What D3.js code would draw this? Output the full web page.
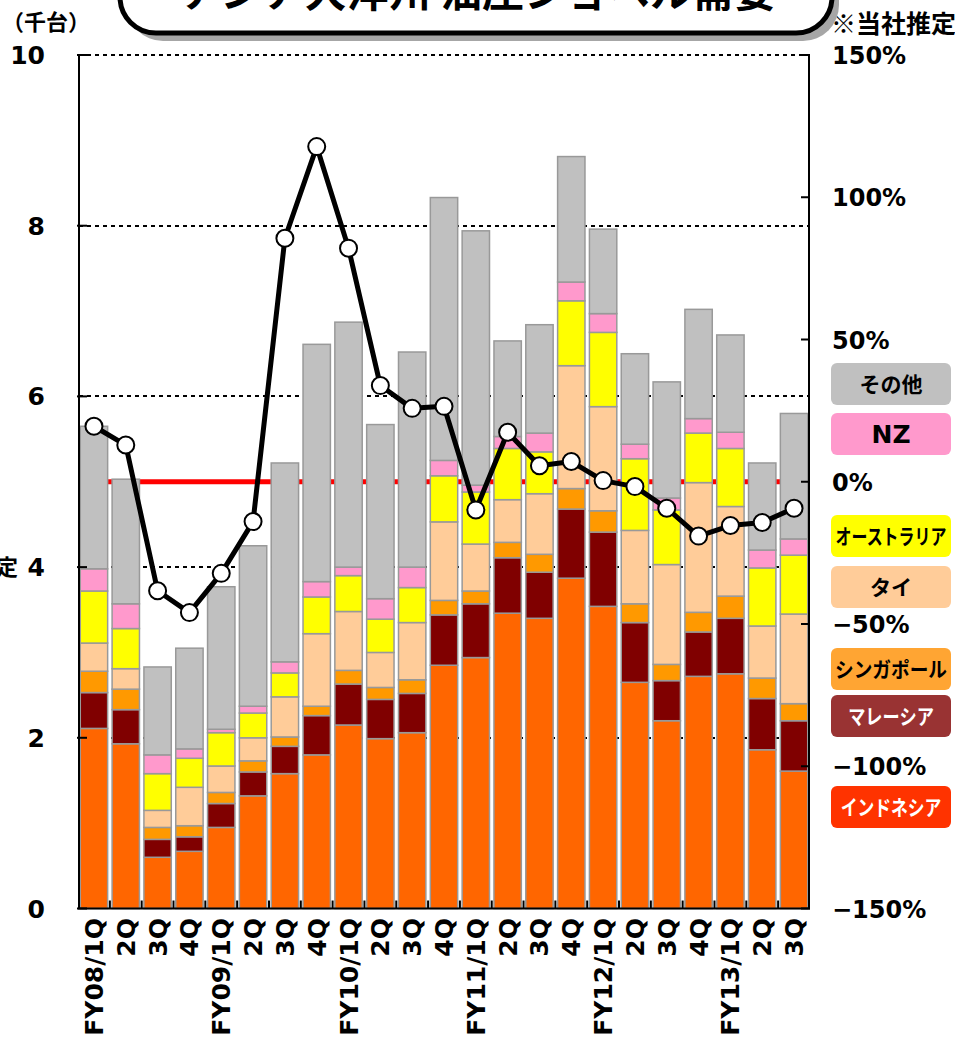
<!DOCTYPE html>
<html>
<head>
<meta charset="utf-8">
<script src="https://cdn.jsdelivr.net/npm/d3@7"></script>
<style>
  body { margin: 0; background: #fff; }
  svg { display: block; }
  .num { font-family: "DejaVu Sans", sans-serif; font-weight: bold; }
  .jp { font-family: "Noto Sans CJK JP", sans-serif; font-weight: bold; }
</style>
</head>
<body>
<svg id="chart" width="955" height="1037"></svg>
<script>
// quarters
var categories = ["FY08/1Q","2Q","3Q","4Q","FY09/1Q","2Q","3Q","4Q","FY10/1Q","2Q","3Q","4Q",
                  "FY11/1Q","2Q","3Q","4Q","FY12/1Q","2Q","3Q","4Q","FY13/1Q","2Q","3Q"];

// demand by country (thousand units)
var indonesia = [2.11,1.93,0.60,0.67,0.95,1.32,1.58,1.80,2.15,1.99,2.06,2.85,2.94,3.46,3.40,3.87,3.54,2.65,2.20,2.72,2.75,1.86,1.61];
var malaysia  = [0.42,0.40,0.21,0.17,0.28,0.28,0.32,0.46,0.48,0.46,0.46,0.59,0.63,0.65,0.54,0.81,0.87,0.70,0.47,0.52,0.65,0.60,0.59];
var singapore = [0.25,0.24,0.14,0.13,0.13,0.13,0.11,0.11,0.16,0.14,0.16,0.17,0.15,0.18,0.21,0.24,0.25,0.22,0.19,0.23,0.26,0.24,0.20];
var thailand  = [0.33,0.24,0.20,0.45,0.31,0.27,0.47,0.85,0.69,0.41,0.67,0.92,0.55,0.50,0.71,1.44,1.22,0.86,1.17,1.52,1.05,0.61,1.05];
var australia = [0.61,0.47,0.43,0.34,0.39,0.29,0.28,0.43,0.42,0.39,0.41,0.54,0.61,0.60,0.49,0.76,0.87,0.84,0.64,0.58,0.68,0.68,0.69];
var nz        = [0.26,0.29,0.22,0.11,0.04,0.08,0.13,0.18,0.10,0.24,0.24,0.18,0.08,0.14,0.22,0.22,0.22,0.17,0.14,0.17,0.19,0.21,0.19];
var others    = [1.67,1.46,1.03,1.18,1.67,1.88,2.33,2.78,2.87,2.04,2.52,3.08,2.98,1.12,1.27,1.47,0.99,1.06,1.36,1.28,1.14,1.02,1.47];

// year-on-year change (%)
var yoy = [19.5,12.9,-38.3,-46.0,-32.2,-14.0,85.6,117.8,82.1,33.8,25.8,26.5,-9.9,17.4,5.6,7.1,0.4,-1.7,-9.3,-19.1,-15.4,-14.3,-9.3];

var seriesKeys   = ["indonesia","malaysia","singapore","thailand","australia","nz","others"];
var seriesColors = ["#FF6600","#800000","#FF9900","#FFCC99","#FFFF00","#FF99CC","#C0C0C0"];

var leftTicks  = [0,2,4,6,8,10];
var rightTicks = [150,100,50,0,-50,-100,-150];
var rightTickLabels = ["150%","100%","50%","0%","\u221250%","\u2212100%","\u2212150%"];

var legendLabels = ["その他","NZ","オーストラリア","タイ","シンガポール","マレーシア","インドネシア"];
var legendColors = ["#C0C0C0","#FF99CC","#FFFF00","#FFCC99","#FFA533","#993333","#FF3300"];
var legendText   = ["#000","#000","#000","#000","#000","#fff","#fff"];

var svg = d3.select("#chart");
var plotL = 79, plotR = 809, plotT = 55, plotB = 908.5;

var table = categories.map(function(c, i) {
  return { i: i, indonesia: indonesia[i], malaysia: malaysia[i], singapore: singapore[i],
           thailand: thailand[i], australia: australia[i], nz: nz[i], others: others[i] };
});

var x = d3.scaleBand().domain(d3.range(categories.length)).range([plotL, plotR])
    .paddingInner(0.14).paddingOuter(0.04);
var y = d3.scaleLinear().domain([0, 10]).range([plotB, plotT]);
var y2 = d3.scaleLinear().domain([-150, 150]).range([plotB, plotT]);

// grid
svg.append("g").selectAll("line")
  .data(leftTicks.filter(function(d) { return d > 0; }))
  .enter().append("line")
    .attr("x1", plotL).attr("x2", plotR)
    .attr("y1", function(d) { return Math.round(y(d)); }).attr("y2", function(d) { return Math.round(y(d)); })
    .attr("stroke", "#000").attr("stroke-width", 2).attr("stroke-dasharray", "4,4");

// zero line of the right axis
svg.append("line")
    .attr("x1", plotL).attr("x2", plotR)
    .attr("y1", y2(0)).attr("y2", y2(0))
    .attr("stroke", "#FF0000").attr("stroke-width", 5);

// stacked bars
var stack = d3.stack().keys(seriesKeys)(table);
svg.append("g").selectAll("g")
  .data(stack)
  .enter().append("g")
    .attr("fill", function(d, k) { return seriesColors[k]; })
  .selectAll("rect")
  .data(function(d) { return d; })
  .enter().append("rect")
    .attr("x", function(d) { return x(d.data.i); })
    .attr("y", function(d) { return y(d[1]); })
    .attr("width", x.bandwidth())
    .attr("height", function(d) { return y(d[0]) - y(d[1]); })
    .attr("stroke", "#999").attr("stroke-width", 1.5);

// axes
var axes = svg.append("g").attr("stroke", "#000").attr("stroke-width", 2);
axes.append("line").attr("x1", plotL).attr("x2", plotL).attr("y1", plotT).attr("y2", plotB);
axes.append("line").attr("x1", plotR).attr("x2", plotR).attr("y1", plotT).attr("y2", plotB);
axes.append("line").attr("x1", plotL - 1).attr("x2", plotR + 1).attr("y1", plotB).attr("y2", plotB);
axes.selectAll(".lt").data(leftTicks).enter().append("line")
    .attr("x1", plotL - 2).attr("x2", plotL + 8)
    .attr("y1", function(d) { return y(d); }).attr("y2", function(d) { return y(d); });
axes.selectAll(".rt").data(rightTicks).enter().append("line")
    .attr("x1", plotR - 8).attr("x2", plotR + 1)
    .attr("y1", function(d) { return y2(d); }).attr("y2", function(d) { return y2(d); });
var gap = x.step() * x.paddingInner() / 2;
axes.selectAll(".bt").data(d3.range(1, categories.length)).enter().append("line")
    .attr("x1", function(i) { return x(i) - gap; }).attr("x2", function(i) { return x(i) - gap; })
    .attr("y1", plotB).attr("y2", plotB - 8);

// tick labels
svg.append("g").selectAll("text").data(leftTicks).enter().append("text")
    .attr("class", "num").attr("font-size", 25).attr("text-anchor", "end")
    .attr("x", 45).attr("y", function(d) { return y(d); }).attr("dy", "0.36em")
    .text(function(d) { return d; });

svg.append("g").selectAll("text").data(rightTicks).enter().append("text")
    .attr("class", "num").attr("font-size", 24)
    .attr("x", 832).attr("y", function(d) { return y2(d); }).attr("dy", "0.38em")
    .text(function(d, i) { return rightTickLabels[i]; });

svg.append("g").selectAll("text").data(categories).enter().append("text")
    .attr("class", "num").attr("font-size", 25).attr("text-anchor", "end")
    .attr("transform", function(d, i) {
      return "translate(" + (x(i) + x.bandwidth() / 2) + ",918) rotate(-90)";
    })
    .attr("dy", "0.36em")
    .text(function(d) { return d; });

// yoy line
var line = d3.line()
    .x(function(d, i) { return x(i) + x.bandwidth() / 2; })
    .y(function(d) { return y2(d); });
svg.append("path").datum(yoy)
    .attr("d", line).attr("fill", "none")
    .attr("stroke", "#000").attr("stroke-width", 5).attr("stroke-linejoin", "round");
svg.append("g").selectAll("circle").data(yoy).enter().append("circle")
    .attr("cx", function(d, i) { return x(i) + x.bandwidth() / 2; })
    .attr("cy", function(d) { return y2(d); })
    .attr("r", 8.5).attr("fill", "#fff").attr("stroke", "#000").attr("stroke-width", 2);

// legend (text squeezed horizontally like the original)
var legendY = [363, 413, 515, 566, 648, 695, 786];
var legendSx = [1, 1, 0.76, 1, 0.89, 0.82, 0.8];
var lg = svg.append("g").selectAll("g").data(legendLabels).enter().append("g")
    .attr("transform", function(d, i) { return "translate(831," + legendY[i] + ")"; });
lg.append("rect").attr("width", 120).attr("height", 42).attr("rx", 6)
    .attr("fill", function(d, i) { return legendColors[i]; });
lg.append("text")
    .attr("class", function(d) { return d === "NZ" ? "num" : "jp"; })
    .attr("font-size", function(d) { return d === "NZ" ? 25 : 21; })
    .attr("transform", function(d, i) { return "translate(60,21) scale(" + legendSx[i] + ",1)"; })
    .attr("dy", "0.36em").attr("text-anchor", "middle")
    .attr("fill", function(d, i) { return legendText[i]; })
    .text(function(d) { return d; });

// notes
svg.append("text").attr("class", "jp").attr("font-size", 22)
    .attr("x", 2).attr("y", 30).text("（千台）");
svg.append("text").attr("class", "jp").attr("font-size", 25).attr("text-anchor", "end")
    .attr("x", 956).attr("y", 33).text("※当社推定");
svg.append("text").attr("class", "jp").attr("font-size", 22).attr("text-anchor", "end")
    .attr("x", 18).attr("y", y(4)).attr("dy", "0.38em").text("定");

// title box (cut off at the top)
svg.append("rect").attr("x", 127).attr("y", -60).attr("width", 712).attr("height", 101)
    .attr("rx", 36).attr("fill", "#A6A6A6");
svg.append("rect").attr("x", 120).attr("y", -66).attr("width", 712).attr("height", 99)
    .attr("rx", 36).attr("fill", "#fff").attr("stroke", "#000").attr("stroke-width", 5);
svg.append("text").attr("class", "jp").attr("font-size", 42).attr("text-anchor", "middle")
    .attr("x", 478).attr("y", 7).text("アジア大洋州 油圧ショベル需要");
</script>
</body>
</html>
